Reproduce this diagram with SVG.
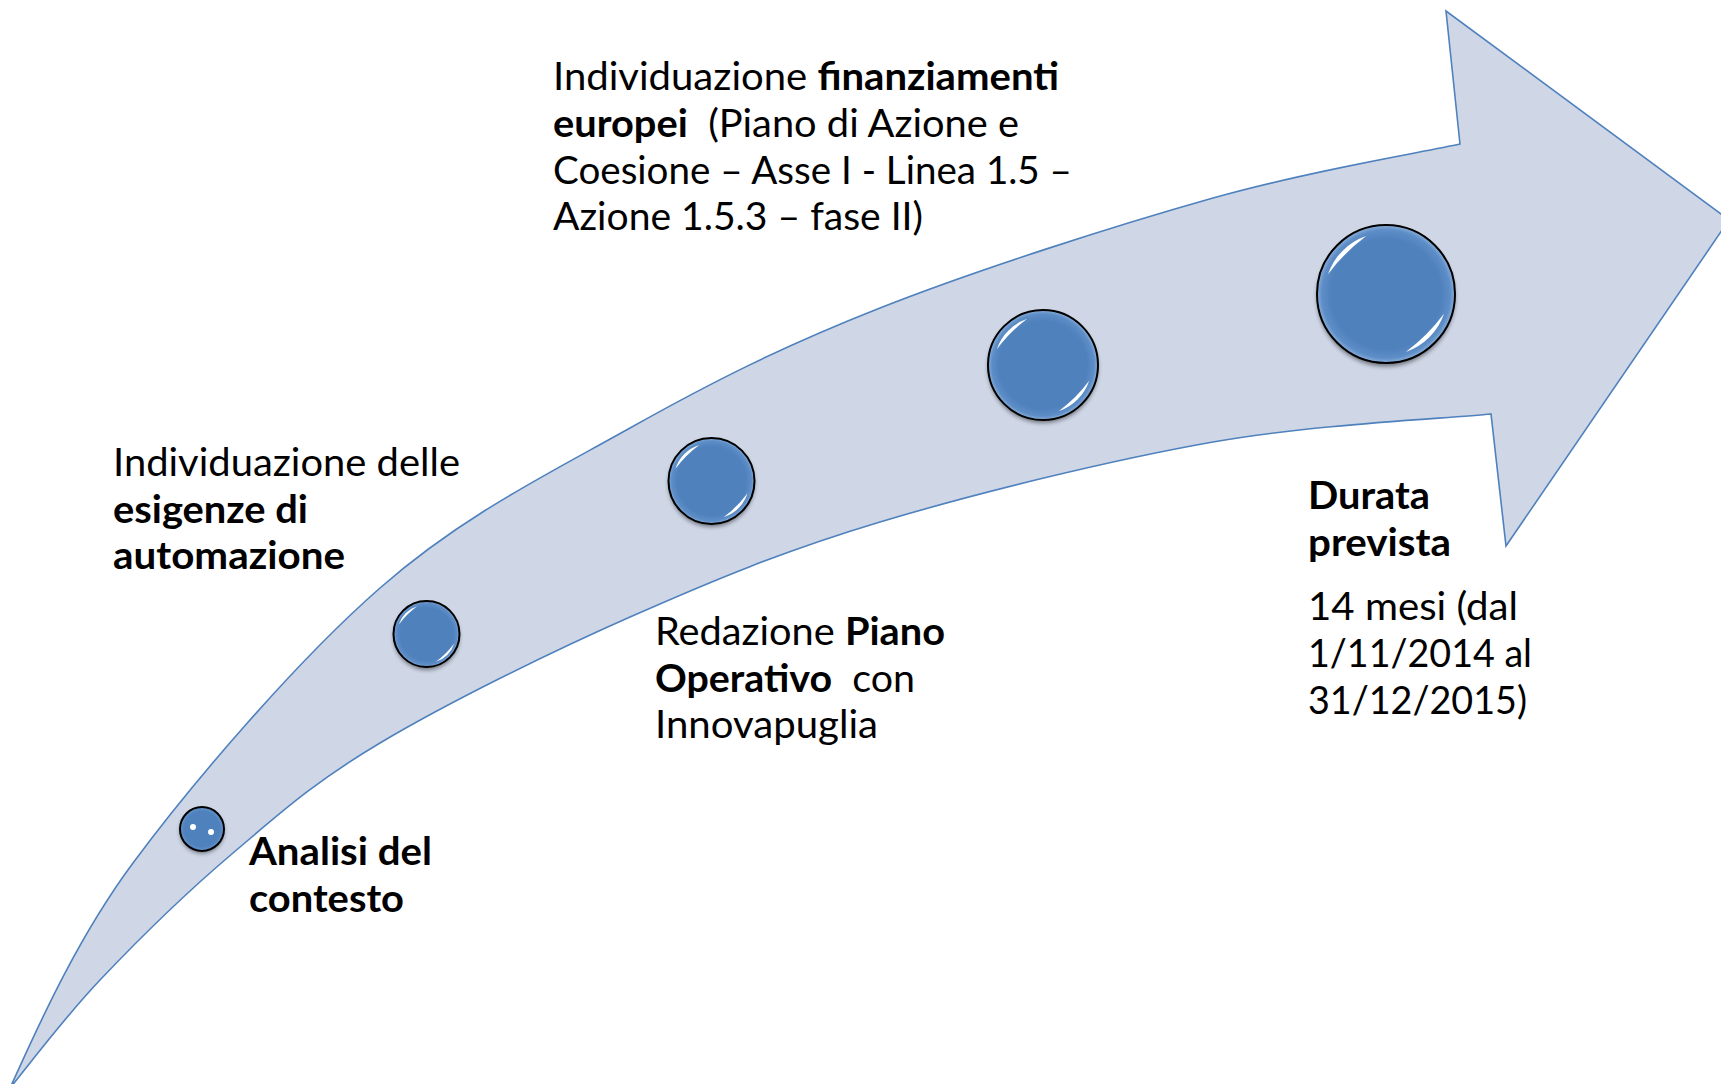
<svg xmlns="http://www.w3.org/2000/svg" width="1721" height="1084" viewBox="0 0 1721 1084">
<style>
  .t { font-family: Lato, "Open Sans", "Liberation Sans", sans-serif; font-size: 39px; fill: #000; white-space: pre; }
  .b { font-weight: bold; }
  .arrow { fill: #CFD7E7; stroke: #4F81BD; stroke-width: 1.6; stroke-linejoin: miter; }
  .ring { fill: url(#ballFill); stroke: #000; stroke-width: 2; }
  .shadow { fill: #000; opacity: 0.45; filter: url(#blur); }
  .hl { fill: #fff; stroke: none; filter: url(#soft); }
</style>
<defs>
  <radialGradient id="ballFill" cx="0.5" cy="0.5" r="0.5">
    <stop offset="0" stop-color="#4F81BD"/>
    <stop offset="0.8" stop-color="#4F81BD"/>
    <stop offset="0.93" stop-color="#5E8EC7"/>
    <stop offset="1" stop-color="#8BAFDB"/>
  </radialGradient>
  <filter id="blur" x="-40%" y="-40%" width="180%" height="180%">
    <feGaussianBlur stdDeviation="2"/>
  </filter>
  <filter id="soft" x="-40%" y="-40%" width="180%" height="180%">
    <feGaussianBlur stdDeviation="0.5"/>
  </filter>
</defs>
<rect x="0" y="0" width="1721" height="1084" fill="#fff"/>

<g id="arrow">
  <path class="arrow" d="M10,1088 C31,1043 71.8,945.5 133,863 C194.2,780.5 297.2,660.5 380,588 C462.8,515.5 546.7,474.7 630,428 C713.3,381.3 782.8,346.3 880,308 C977.2,269.7 1116.3,225.3 1213,198 C1309.7,170.7 1418.8,153 1460,144 L1446,11 L1729,220 L1506,546 L1491,414 C1444.7,418.7 1314.8,424 1213,442 C1111.2,460 977.2,492.8 880,522 C782.8,551.2 713.3,580.2 630,617 C546.7,653.8 446.2,703.7 380,743 C313.8,782.3 279.7,813.5 233,853 C186.3,892.5 137.2,940.8 100,980 C62.8,1019.2 25,1070 10,1088 Z"/>
</g>

<g id="step1" transform="translate(202,829)">
  <circle class="shadow" cx="0" cy="2.5" r="22"/>
  <circle class="ring" r="22"/>
  <circle class="hl" cx="-9" cy="-2" r="3"/>
  <circle class="hl" cx="9" cy="3" r="3"/>
</g>
<g id="step2" transform="translate(426.5,634)">
  <circle class="shadow" cx="0" cy="3" r="33"/>
  <circle class="ring" r="33"/>
  <path class="hl" d="M-27.7,-9.4 A29,29 0 0 1 -9.4,-27.7 A87,87 0 0 0 -27.7,-9.4 Z M27.7,9.4 A29,29 0 0 1 9.4,27.7 A87,87 0 0 0 27.7,9.4 Z"/>
</g>
<g id="step3" transform="translate(711.5,481)">
  <circle class="shadow" cx="0" cy="3" r="43"/>
  <circle class="ring" r="43"/>
  <path class="hl" d="M-36.1,-12.3 A38,38 0 0 1 -12.3,-36.1 A114,114 0 0 0 -36.1,-12.3 Z M36.1,12.3 A38,38 0 0 1 12.3,36.1 A114,114 0 0 0 36.1,12.3 Z"/>
</g>
<g id="step4" transform="translate(1043,365)">
  <circle class="shadow" cx="0" cy="3" r="55"/>
  <circle class="ring" r="55"/>
  <path class="hl" d="M-46.2,-15.8 A48.8,48.8 0 0 1 -15.8,-46.2 A146,146 0 0 0 -46.2,-15.8 Z M46.2,15.8 A48.8,48.8 0 0 1 15.8,46.2 A146,146 0 0 0 46.2,15.8 Z"/>
</g>
<g id="step5" transform="translate(1386,294)">
  <circle class="shadow" cx="0" cy="3.5" r="69"/>
  <circle class="ring" r="69"/>
  <path class="hl" d="M-58,-19.8 A61.3,61.3 0 0 1 -19.8,-58 A184,184 0 0 0 -58,-19.8 Z M58,19.8 A61.3,61.3 0 0 1 19.8,58 A184,184 0 0 0 58,19.8 Z"/>
</g>

<g id="label-finanziamenti">
  <text class="t" x="553" y="90" textLength="506" lengthAdjust="spacingAndGlyphs">Individuazione <tspan class="b">finanziamenti</tspan></text>
  <text class="t" x="553" y="136.8" textLength="466" lengthAdjust="spacingAndGlyphs"><tspan class="b">europei</tspan>  (Piano di Azione e</text>
  <text class="t" x="553" y="183.6" textLength="519" lengthAdjust="spacingAndGlyphs">Coesione – Asse I - Linea 1.5 –</text>
  <text class="t" x="553" y="230.4" textLength="370" lengthAdjust="spacingAndGlyphs">Azione 1.5.3 – fase II)</text>
</g>
<g id="label-esigenze">
  <text class="t" x="113" y="475.8" textLength="347" lengthAdjust="spacingAndGlyphs">Individuazione delle</text>
  <text class="t b" x="113" y="522.6" textLength="195" lengthAdjust="spacingAndGlyphs">esigenze di</text>
  <text class="t b" x="113" y="569.4" textLength="232" lengthAdjust="spacingAndGlyphs">automazione</text>
</g>
<g id="label-piano">
  <text class="t" x="655" y="644.8" textLength="290" lengthAdjust="spacingAndGlyphs">Redazione <tspan class="b">Piano</tspan></text>
  <text class="t" x="655" y="691.6" textLength="260" lengthAdjust="spacingAndGlyphs"><tspan class="b">Operativo</tspan>  con</text>
  <text class="t" x="655" y="738.4" textLength="223" lengthAdjust="spacingAndGlyphs">Innovapuglia</text>
</g>
<g id="label-durata">
  <text class="t b" x="1308" y="509.3" textLength="122" lengthAdjust="spacingAndGlyphs">Durata</text>
  <text class="t b" x="1308" y="556" textLength="143" lengthAdjust="spacingAndGlyphs">prevista</text>
  <text class="t" x="1308" y="620" textLength="210" lengthAdjust="spacingAndGlyphs">14 mesi (dal</text>
  <text class="t" x="1308" y="666.8" textLength="224" lengthAdjust="spacingAndGlyphs">1/11/2014 al</text>
  <text class="t" x="1308" y="713.6" textLength="219" lengthAdjust="spacingAndGlyphs">31/12/2015)</text>
</g>
<g id="label-analisi">
  <text class="t b" x="249" y="865" textLength="183" lengthAdjust="spacingAndGlyphs">Analisi del</text>
  <text class="t b" x="249" y="911.8" textLength="155" lengthAdjust="spacingAndGlyphs">contesto</text>
</g>
</svg>
